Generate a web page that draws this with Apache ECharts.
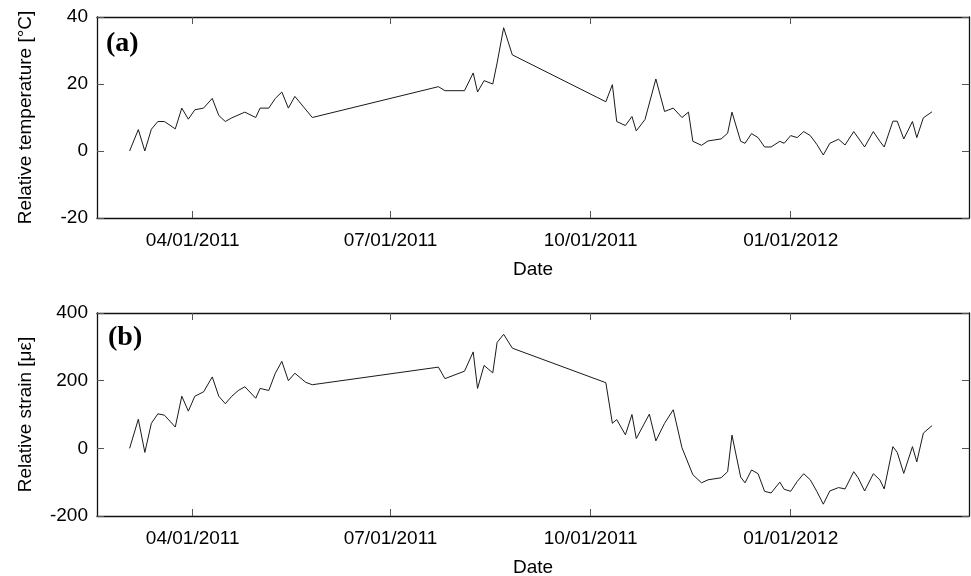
<!DOCTYPE html>
<html>
<head>
<meta charset="utf-8">
<script src="https://cdn.jsdelivr.net/npm/echarts@6/dist/echarts.min.js"></script>
<style>
  html, body { margin: 0; padding: 0; background: #fff; }
  #chart { width: 971px; height: 576px; }
</style>
</head>
<body>
<div id="chart"></div>
<script>
// Measurement dates and values, panel (a): relative temperature [°C]
const tempDates = [
  '2011-03-03','2011-03-07','2011-03-10','2011-03-13','2011-03-16','2011-03-19','2011-03-24',
  '2011-03-27','2011-03-30','2011-04-02','2011-04-06','2011-04-10','2011-04-13','2011-04-16',
  '2011-04-19','2011-04-25','2011-04-30','2011-05-02','2011-05-06','2011-05-09','2011-05-12',
  '2011-05-15','2011-05-18','2011-05-26','2011-07-23','2011-07-26','2011-08-04','2011-08-08',
  '2011-08-10','2011-08-13','2011-08-17','2011-08-19','2011-08-22','2011-08-26','2011-10-08',
  '2011-10-11','2011-10-13','2011-10-17','2011-10-20','2011-10-22','2011-10-26','2011-10-31',
  '2011-11-04','2011-11-08','2011-11-12','2011-11-15','2011-11-17','2011-11-21','2011-11-24',
  '2011-11-30','2011-12-03','2011-12-05','2011-12-09','2011-12-11','2011-12-14','2011-12-17',
  '2011-12-20','2011-12-23','2011-12-27','2011-12-29','2012-01-01','2012-01-04','2012-01-07',
  '2012-01-10','2012-01-13','2012-01-16','2012-01-19','2012-01-23','2012-01-26','2012-01-30',
  '2012-02-04','2012-02-08','2012-02-11','2012-02-13','2012-02-17','2012-02-19','2012-02-22',
  '2012-02-26','2012-02-28','2012-03-02','2012-03-06'
];
const tempValues = [
  0, 6.4, 0, 6.5, 8.8, 8.8, 6.6,
  12.8, 9.5, 12.3, 12.8, 15.7, 10.6, 8.8,
  9.9, 11.6, 10, 12.8, 12.8, 15.7, 17.6,
  12.8, 16.3, 10, 19.2, 18, 18, 23.3,
  17.6, 21, 20, 26.3, 36.8, 28.7, 14.7,
  19.8, 8.8, 7.6, 10.3, 6, 9.4, 21.5,
  11.8, 12.8, 10, 11.6, 2.9, 1.7, 3,
  3.6, 5.3, 11.6, 2.9, 2.3, 5.2, 4,
  1.2, 1.2, 2.9, 2.3, 4.6, 4, 5.8,
  4.6, 2, -1.2, 2.3, 3.5, 1.8, 5.8,
  1.2, 5.8, 2.9, 1.2, 8.9, 8.9, 3.6,
  8.8, 4, 9.9, 11.7
];

// Measurement dates and values, panel (b): relative strain [με]
const strainDates = [
  '2011-03-03','2011-03-07','2011-03-10','2011-03-13','2011-03-16','2011-03-19','2011-03-24',
  '2011-03-27','2011-03-30','2011-04-02','2011-04-06','2011-04-10','2011-04-13','2011-04-16',
  '2011-04-19','2011-04-22','2011-04-25','2011-04-30','2011-05-02','2011-05-06','2011-05-09',
  '2011-05-12','2011-05-15','2011-05-18','2011-05-23','2011-05-26','2011-07-23','2011-07-26',
  '2011-08-04','2011-08-08','2011-08-10','2011-08-13','2011-08-17','2011-08-19','2011-08-22',
  '2011-08-26','2011-10-08','2011-10-11','2011-10-13','2011-10-17','2011-10-20','2011-10-22',
  '2011-10-28','2011-10-31','2011-11-04','2011-11-08','2011-11-12','2011-11-17','2011-11-21',
  '2011-11-24','2011-11-30','2011-12-03','2011-12-05','2011-12-09','2011-12-11','2011-12-14',
  '2011-12-17','2011-12-20','2011-12-23','2011-12-27','2011-12-29','2012-01-01','2012-01-04',
  '2012-01-07','2012-01-10','2012-01-13','2012-01-16','2012-01-19','2012-01-23','2012-01-26',
  '2012-01-30','2012-02-01','2012-02-04','2012-02-08','2012-02-11','2012-02-13','2012-02-17',
  '2012-02-19','2012-02-22','2012-02-26','2012-02-28','2012-03-02','2012-03-06'
];
const strainValues = [
  0, 86, -12, 74, 102, 98, 63,
  154, 110, 154, 167, 211, 154, 132,
  154, 171, 182, 148, 177, 171, 222,
  257, 200, 222, 195, 188, 240, 206,
  228, 285, 177, 245, 223, 313, 337,
  296, 194, 74, 85, 40, 100, 29,
  101, 22, 74, 114, 2, -78, -102,
  -93, -87, -69, 39, -85, -102, -64,
  -75, -127, -132, -100, -121, -127, -98,
  -75, -93, -127, -165, -126, -116, -120,
  -69, -87, -126, -75, -93, -120, 5,
  -12, -74, 5, -40, 45, 67
];

// Date axis ticks and range
const dateTicks = ['2011-04-01', '2011-07-01', '2011-10-01', '2012-01-01'];
const dateRange = ['2011-02-16', '2012-03-23'];

// Value axis settings per panel: [min, max, interval]
const tempAxis = [-20, 40, 20];
const strainAxis = [-200, 400, 200];

const toTime = s => new Date(s + 'T00:00:00').getTime();
const pad = n => (n < 10 ? '0' : '') + n;
const fmtDate = v => {
  const d = new Date(v);
  return pad(d.getMonth() + 1) + '/' + pad(d.getDate()) + '/' + d.getFullYear();
};

const tickTimes = dateTicks.map(toTime);
const FONT = 'Liberation Sans';
const FS = 19;
const lineCol = '#111';

// Date axis drawn as a numeric axis over timestamps, ticks only at quarter starts
function xAxes(gridIndex) {
  const common = {
    type: 'value', gridIndex, scale: true,
    min: toTime(dateRange[0]), max: toTime(dateRange[1]),
    splitLine: { show: false },
    axisLine: { show: true, onZero: false, lineStyle: { color: lineCol, width: 1.3 } },
    axisTick: { show: true, inside: true, length: 7, customValues: tickTimes,
                lineStyle: { color: '#555', width: 1 } }
  };
  return [
    Object.assign({}, common, {
      position: 'bottom',
      name: 'Date', nameLocation: 'middle', nameGap: 42,
      nameTextStyle: { fontFamily: FONT, fontSize: FS, color: '#000' },
      axisLabel: { show: true, customValues: tickTimes, formatter: fmtDate, margin: 13,
                   fontFamily: FONT, fontSize: FS, color: '#000',
                   showMinLabel: true, showMaxLabel: true }
    }),
    Object.assign({}, common, { position: 'top', axisLabel: { show: false } })
  ];
}

function yAxes(gridIndex, cfg, title) {
  const common = {
    type: 'value', gridIndex,
    min: cfg[0], max: cfg[1], interval: cfg[2],
    splitLine: { show: false },
    axisLine: { show: true, onZero: false, lineStyle: { color: lineCol, width: 1.3 } },
    axisTick: { show: true, inside: true, length: 7, lineStyle: { color: '#555', width: 1 } }
  };
  return [
    Object.assign({}, common, {
      position: 'left',
      name: title, nameLocation: 'middle', nameGap: 62, nameRotate: 90,
      nameTextStyle: { fontFamily: FONT, fontSize: FS, color: '#000' },
      axisLabel: { show: true, margin: 9, fontFamily: FONT, fontSize: FS, color: '#000' }
    }),
    Object.assign({}, common, { position: 'right', axisLabel: { show: false } })
  ];
}

const toPairs = (dates, vals) => dates.map((d, i) => [toTime(d), vals[i]]);

const chart = echarts.init(document.getElementById('chart'), null, { renderer: 'canvas' });
chart.setOption({
  animation: false,
  backgroundColor: '#fff',
  title: [
    { text: '(a)', left: 106, top: 30, padding: 0,
      textStyle: { fontFamily: 'Liberation Serif', fontWeight: 'bold', fontSize: 28, color: '#000' } },
    { text: '(b)', left: 108, top: 324, padding: 0,
      textStyle: { fontFamily: 'Liberation Serif', fontWeight: 'bold', fontSize: 28, color: '#000' } }
  ],
  grid: [
    { left: 97, top: 17, width: 872, height: 201, outerBoundsMode: 'none' },
    { left: 97, top: 313, width: 872, height: 203, outerBoundsMode: 'none' }
  ],
  xAxis: [...xAxes(0), ...xAxes(1)],
  yAxis: [...yAxes(0, tempAxis, 'Relative temperature [°C]'),
          ...yAxes(1, strainAxis, 'Relative strain [με]')],
  series: [
    { type: 'line', xAxisIndex: 0, yAxisIndex: 0, data: toPairs(tempDates, tempValues),
      showSymbol: false, lineStyle: { color: '#1a1a1a', width: 1 } },
    { type: 'line', xAxisIndex: 2, yAxisIndex: 2, data: toPairs(strainDates, strainValues),
      showSymbol: false, lineStyle: { color: '#1a1a1a', width: 1 } }
  ]
});
</script>
</body>
</html>
